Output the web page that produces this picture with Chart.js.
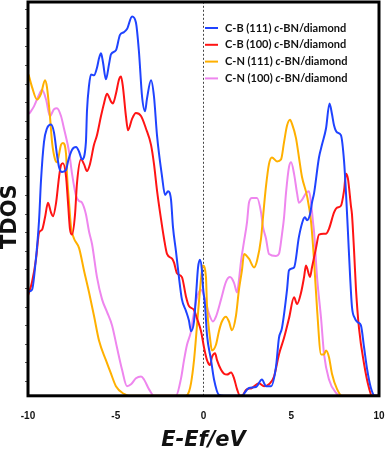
<!DOCTYPE html>
<html>
<head>
<meta charset="utf-8">
<script src="https://cdn.jsdelivr.net/npm/chart.js@4.4.0/dist/chart.umd.min.js"></script>
<style>
  html, body { margin: 0; padding: 0; background: #fff; }
</style>
</head>
<body>
<canvas id="tdos" width="391" height="458"></canvas>
<script>
// series names and colours (legend order)
var seriesNames = ["C-B (111) c-BN/diamond", "C-B (100) c-BN/diamond", "C-N (111) c-BN/diamond", "C-N (100) c-BN/diamond"];
var seriesColors = ["#1f43ff", "#ff1414", "#ffb000", "#ee86ee"];

// [E - Ef (eV), TDOS (arb. units)]
var cb111 = [[-9.97,5.61],[-9.77,5.71],[-9.57,7.17],[-9.37,9.45],[-9.26,11.58],[-9.09,13.66],[-8.92,14.39],[-8.69,14.60],[-8.52,14.18],[-8.35,12.99],[-8.23,12.31],[-8.06,12.05],[-7.83,12.16],[-7.72,12.62],[-7.49,13.25],[-7.26,13.40],[-7.09,13.14],[-6.92,12.73],[-6.70,13.66],[-6.64,15.32],[-6.52,16.73],[-6.41,17.30],[-6.24,17.25],[-6.07,17.66],[-5.95,18.18],[-5.84,18.44],[-5.73,17.97],[-5.56,17.04],[-5.38,17.87],[-5.27,18.39],[-4.99,18.60],[-4.76,19.43],[-4.53,19.58],[-4.36,19.74],[-4.07,20.42],[-3.85,20.10],[-3.68,18.55],[-3.50,16.10],[-3.33,15.32],[-3.22,16.00],[-2.99,16.99],[-2.82,16.10],[-2.65,14.03],[-2.36,11.79],[-2.19,10.81],[-2.02,11.01],[-1.85,10.55],[-1.74,9.09],[-1.57,7.79],[-1.40,6.39],[-1.23,5.19],[-1.00,4.57],[-0.83,4.05],[-0.71,3.48],[-0.54,4.00],[-0.43,5.35],[-0.31,6.91],[-0.20,7.32],[-0.09,6.75],[-0.03,5.87],[0.09,4.83],[0.20,3.27],[0.43,1.92],[0.60,0.88],[0.88,0.05],[1.17,0],[2.19,0],[2.42,0.26],[2.59,0.42],[2.99,0.47],[3.33,0.88],[3.56,0.52],[3.85,0.52],[4.13,1.56],[4.30,3.12],[4.47,3.64],[4.76,5.71],[4.87,6.75],[5.16,6.91],[5.44,8.57],[5.67,9.45],[5.78,9.61],[5.90,9.45],[6.07,9.77],[6.18,10.39],[6.30,10.91],[6.58,12.83],[6.75,13.51],[6.98,14.39],[7.18,15.74],[7.32,15.17],[7.44,14.55],[7.61,14.18],[7.83,14.03],[8.01,12.62],[8.12,10.91],[8.23,8.83],[8.35,6.49],[8.46,4.78],[8.63,4.16],[8.80,3.95],[8.97,3.79],[9.15,2.60],[9.32,1.45],[9.54,0.42],[9.77,0],[10,0]];

var cb100 = [[-10.00,5.40],[-9.77,6.13],[-9.54,7.38],[-9.37,8.78],[-9.20,8.94],[-9.03,9.61],[-8.86,10.39],[-8.69,9.87],[-8.58,9.66],[-8.40,10.39],[-8.23,11.79],[-8.12,12.42],[-8.01,12.52],[-7.83,11.79],[-7.72,10.39],[-7.61,8.99],[-7.49,8.68],[-7.32,9.77],[-7.21,11.43],[-6.98,12.73],[-6.81,12.47],[-6.64,12.10],[-6.47,12.47],[-6.24,13.51],[-6.07,14.03],[-5.84,15.06],[-5.67,15.74],[-5.50,16.26],[-5.27,15.84],[-5.16,15.74],[-4.99,16.26],[-4.81,17.04],[-4.70,17.19],[-4.59,16.62],[-4.42,15.06],[-4.30,14.29],[-4.07,14.91],[-3.85,15.22],[-3.56,15.06],[-3.28,14.39],[-2.99,13.51],[-2.82,12.47],[-2.65,11.06],[-2.42,9.51],[-2.25,8.47],[-2.08,7.64],[-1.79,7.38],[-1.68,7.17],[-1.51,6.60],[-1.23,6.39],[-1.00,5.35],[-0.83,4.83],[-0.54,4.62],[-0.37,4.16],[-0.14,3.48],[0.03,2.60],[0.20,1.92],[0.37,1.66],[0.48,2.08],[0.66,2.29],[0.77,1.92],[1.00,1.40],[1.17,1.19],[1.34,1.14],[1.57,1.25],[1.74,0.94],[1.91,0.36],[2.08,0],[2.25,0.05],[2.42,0.31],[2.76,0.42],[3.16,0.68],[3.45,0.52],[3.73,0.62],[4.02,1.04],[4.30,2.23],[4.59,3.12],[4.87,4.16],[5.16,5.30],[5.33,4.94],[5.56,5.56],[5.73,6.39],[5.84,7.01],[6.07,6.39],[6.18,6.91],[6.41,7.95],[6.58,8.68],[6.98,8.73],[7.15,8.99],[7.44,9.87],[7.61,10.13],[7.83,10.23],[8.01,11.06],[8.12,11.95],[8.23,11.69],[8.40,10.23],[8.46,9.77],[8.58,7.79],[8.69,5.71],[8.86,3.64],[9.15,1.71],[9.43,0.42],[9.60,0],[10,0]];

var cn111 = [[-9.97,17.30],[-9.77,16.62],[-9.49,15.95],[-9.26,16.26],[-9.03,16.99],[-8.92,16.62],[-8.75,15.06],[-8.63,13.66],[-8.46,12.73],[-8.35,12.57],[-8.12,13.51],[-8.01,13.61],[-7.83,12.99],[-7.78,11.95],[-7.66,10.39],[-7.55,9.09],[-7.38,8.47],[-7.09,7.95],[-6.81,6.75],[-6.52,5.56],[-6.24,4.31],[-5.95,2.96],[-5.56,1.92],[-5.27,1.19],[-4.99,0.52],[-4.53,0.10],[-4.25,0],[-1.00,0],[-0.83,0.21],[-0.71,0.68],[-0.54,1.92],[-0.37,3.79],[-0.20,5.71],[-0.09,6.75],[-0.03,7.01],[0.14,6.39],[0.20,4.83],[0.37,3.12],[0.48,2.44],[0.71,2.75],[0.88,3.48],[1.05,4.00],[1.28,4.26],[1.45,4.00],[1.62,3.53],[1.85,4.31],[2.02,5.71],[2.19,6.75],[2.31,7.64],[2.59,7.38],[2.88,6.91],[3.05,7.27],[3.28,8.47],[3.39,9.61],[3.56,11.27],[3.73,12.47],[3.90,12.83],[4.19,12.62],[4.42,12.73],[4.59,13.66],[4.76,14.55],[4.93,14.86],[5.04,14.65],[5.27,13.87],[5.44,12.83],[5.61,11.79],[5.90,10.75],[6.13,9.35],[6.30,7.27],[6.47,4.68],[6.70,2.23],[6.87,2.23],[6.98,2.44],[7.15,2.08],[7.32,1.19],[7.61,0.36],[7.89,0],[10,0]];

var cn100 = [[-9.94,15.17],[-9.66,15.58],[-9.37,16.21],[-9.20,16.47],[-8.97,15.95],[-8.75,15.06],[-8.52,15.43],[-8.35,15.48],[-8.12,15.06],[-7.95,14.39],[-7.66,13.14],[-7.49,11.95],[-7.26,10.75],[-7.09,10.49],[-6.92,10.39],[-6.70,9.77],[-6.52,8.83],[-6.35,8.16],[-6.07,6.39],[-5.78,5.19],[-5.50,4.52],[-5.21,3.79],[-4.93,2.60],[-4.64,1.40],[-4.36,0.52],[-4.13,0.62],[-3.85,0.94],[-3.56,1.04],[-3.39,0.88],[-3.11,0.36],[-2.82,0],[-1.57,0],[-1.28,0.94],[-1.11,1.92],[-0.94,2.75],[-0.71,3.48],[-0.60,4.16],[-0.37,5.30],[-0.14,5.71],[0.09,5.19],[0.31,4.42],[0.54,4.00],[0.71,4.26],[1.00,5.19],[1.28,6.13],[1.51,6.39],[1.74,6.08],[1.91,5.56],[2.02,6.23],[2.14,7.27],[2.31,8.31],[2.48,9.35],[2.59,10.39],[2.76,10.65],[3.05,10.65],[3.28,9.87],[3.39,9.09],[3.56,8.47],[3.73,7.64],[4.13,7.53],[4.30,7.64],[4.47,8.68],[4.59,9.61],[4.70,10.91],[4.87,12.31],[4.99,12.57],[5.16,11.95],[5.33,10.91],[5.44,10.39],[5.61,10.55],[5.84,10.91],[6.01,11.01],[6.13,10.39],[6.24,9.35],[6.30,8.83],[6.47,6.39],[6.70,4.16],[6.87,2.23],[7.15,0.88],[7.55,0.16],[7.83,0],[10,0]];

var seriesData = [cb111, cb100, cn111, cn100];

// axis ranges and ticks
var energyMin = -10, energyMax = 10, energyStep = 5;
var dosMin = 0, dosMax = 21.2;
var dosTickStart = 0.78, dosTickCount = 21;
var fermiLevel = 0;

function toPoints(pairs) {
  return pairs.map(function(p) { return { x: p[0], y: p[1] }; });
}

var datasets = [];
for (var i = 0; i < seriesData.length; i++) {
  datasets.push({
    label: seriesNames[i],
    data: toPoints(seriesData[i]),
    borderColor: seriesColors[i],
    borderWidth: 2,
    pointRadius: 0,
    cubicInterpolationMode: "monotone",
    fill: false
  });
}
// dashed Fermi level line
datasets.push({
  label: "Ef",
  data: [{ x: fermiLevel, y: dosMin }, { x: fermiLevel, y: dosMax }],
  borderColor: "#444",
  borderWidth: 1,
  borderDash: [2, 2],
  pointRadius: 0,
  fill: false
});

var framePlugin = {
  id: "frame",
  afterDatasetsDraw: function(chart) {
    var ctx = chart.ctx, ca = chart.chartArea;
    ctx.save();
    ctx.strokeStyle = "#000";
    ctx.lineWidth = 3;
    ctx.strokeRect(ca.left, ca.top, ca.right - ca.left, ca.bottom - ca.top);

    // y title
    ctx.translate(ca.left - 17, ca.top + (ca.bottom - ca.top) * 0.545);
    ctx.rotate(-Math.PI / 2);
    ctx.fillStyle = "#111";
    ctx.font = "bold 21px 'DejaVu Sans'";
    ctx.textAlign = "center";
    ctx.textBaseline = "middle";
    ctx.fillText("TDOS", 0, 0);
    ctx.restore();

    // legend, with the italic "c"
    ctx.save();
    ctx.textBaseline = "middle";
    var rowY = 28;
    for (var i = 0; i < seriesNames.length; i++) {
      var y = rowY + i * 16.8;
      ctx.strokeStyle = seriesColors[i];
      ctx.lineWidth = 2;
      ctx.beginPath();
      ctx.moveTo(205, y);
      ctx.lineTo(218, y);
      ctx.stroke();

      var k = seriesNames[i].indexOf(" c-");
      var parts = [
        [seriesNames[i].slice(0, k + 1), "bold 11px Lato"],
        ["c", "italic bold 11px Lato"],
        [seriesNames[i].slice(k + 2), "bold 11px Lato"]
      ];
      var x = 225;
      ctx.fillStyle = "#111";
      for (var j = 0; j < parts.length; j++) {
        ctx.font = parts[j][1];
        ctx.fillText(parts[j][0], x, y);
        x += ctx.measureText(parts[j][0]).width;
      }
    }
    ctx.restore();
  }
};

new Chart(document.getElementById("tdos"), {
  type: "line",
  data: { datasets: datasets },
  plugins: [framePlugin],
  options: {
    responsive: false,
    animation: false,
    devicePixelRatio: 1,
    layout: { padding: { left: 25, right: 12, top: 2, bottom: 0 } },
    plugins: {
      legend: { display: false },
      tooltip: { enabled: false }
    },
    scales: {
      x: {
        type: "linear",
        min: energyMin,
        max: energyMax,
        grid: { display: false },
        border: { display: false },
        ticks: {
          stepSize: energyStep,
          maxRotation: 0,
          padding: 6,
          color: "#111",
          font: { family: "Liberation Sans", size: 10, weight: "bold" }
        },
        title: {
          display: true,
          text: "E-Ef/eV",
          color: "#111",
          font: { family: "DejaVu Sans", size: 21, weight: "bold", style: "italic" },
          padding: { top: 0, bottom: 5 }
        }
      },
      y: {
        type: "linear",
        min: dosMin,
        max: dosMax,
        grid: { drawOnChartArea: false, drawTicks: true, tickLength: 3, color: "#555" },
        border: { display: false },
        ticks: { display: false },
        afterBuildTicks: function(axis) {
          var t = [];
          for (var k = 0; k < dosTickCount; k++) t.push({ value: dosTickStart + k });
          axis.ticks = t;
        }
      }
    }
  }
});
</script>
</body>
</html>
